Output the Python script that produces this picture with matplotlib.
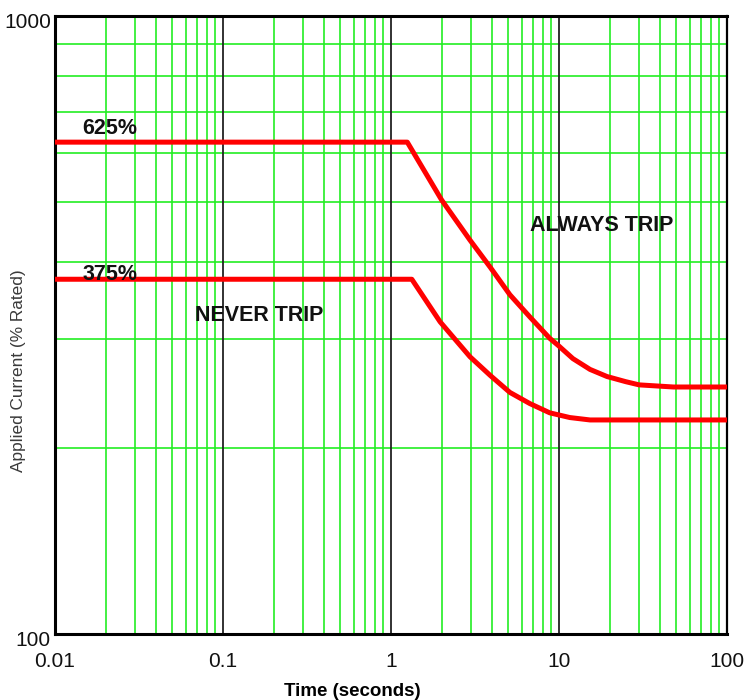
import matplotlib
matplotlib.use("Agg")
import matplotlib.pyplot as plt
import matplotlib.transforms as mtransforms
from matplotlib.ticker import FixedLocator, NullFormatter

# upper curve (625 %) - always trip boundary
t_upper = [0.01, 1.25, 2.0, 2.95, 3.9, 5.1, 6.7, 8.8, 9.9, 12.1, 15.3, 19.3, 25, 30, 48, 100]
i_upper = [625, 625, 504, 434, 392, 354, 326, 301, 293, 279, 268, 261, 256, 253, 251, 251]

# lower curve (375 %) - never trip boundary
t_lower = [0.01, 1.33, 1.96, 2.95, 3.9, 5.1, 6.7, 8.8, 11.6, 15.3, 100]
i_lower = [375, 375, 320, 281, 262, 246, 236, 228, 224, 222, 222]

x_ticks = [0.01, 0.1, 1, 10, 100]
x_tick_labels = ['0.01', '0.1', '1', '10', '100']
y_ticks = [100, 1000]
y_tick_labels = ['100', '1000']

green = '#22ee22'
red = '#ff0000'

fig = plt.figure(figsize=(7.51, 7.0), dpi=100)
ax = fig.add_axes([55 / 751, 66 / 700, 672 / 751, 618 / 700])
ax.set_xscale('log')
ax.set_yscale('log')
ax.set_xlim(0.01, 100)
ax.set_ylim(100, 1000)

# grid: green minor lines, black decade lines
minor_x = [m * 10.0 ** e for e in range(-2, 2) for m in range(2, 10)]
minor_y = [m * 100 for m in range(2, 10)]
for x in minor_x:
    ax.axvline(x, color=green, lw=1.2, zorder=1)
for y in minor_y:
    ax.axhline(y, color=green, lw=1.2, zorder=1)
for x in [0.1, 1, 10]:
    ax.axvline(x, color='#222222', lw=1.3, zorder=1.5)

ax.plot(t_upper, i_upper, color=red, lw=3.6, solid_capstyle='butt', zorder=3)
ax.plot(t_lower, i_lower, color=red, lw=3.6, solid_capstyle='butt', zorder=3)

bold = dict(family='Liberation Sans', fontsize=15.5, fontweight='bold', color='#111111')
ax.text(0.0145, 658, '625%', ha='left', va='center', **bold)
ax.text(0.0145, 381, '375%', ha='left', va='center', **bold)
ax.text(0.164, 328, 'NEVER TRIP', ha='center', va='center', **bold)
ax.text(18.0, 458, 'ALWAYS TRIP', ha='center', va='center', **bold)

ax.xaxis.set_major_locator(FixedLocator(x_ticks))
ax.yaxis.set_major_locator(FixedLocator(y_ticks))
ax.xaxis.set_minor_formatter(NullFormatter())
ax.yaxis.set_minor_formatter(NullFormatter())
ax.set_xticklabels(x_tick_labels)
ax.set_yticklabels(y_tick_labels)
ax.tick_params(which='both', length=0)
ax.tick_params(axis='x', pad=13)
ax.tick_params(axis='y', pad=3)
for lab in ax.get_xticklabels() + ax.get_yticklabels():
    lab.set_family('Liberation Sans')
    lab.set_fontsize(15)
    lab.set_color('#111111')
off = mtransforms.ScaledTranslation(0, -4 / 100, fig.dpi_scale_trans)
for lab in ax.get_yticklabels():
    lab.set_transform(lab.get_transform() + off)

for side in ['left', 'bottom', 'top']:
    ax.spines[side].set_linewidth(2.2)
ax.spines['right'].set_linewidth(1.6)

ax.set_xlabel('Time (seconds)', family='Liberation Sans', fontsize=13.5,
              fontweight='bold')
ax.xaxis.set_label_coords(0.443, -0.08)
ax.set_ylabel('Applied Current (% Rated)', family='Liberation Sans',
              fontsize=12.4, color='#3a3a3a')
ax.yaxis.set_label_coords(-0.043, 0.4256)

fig.savefig('out.png', dpi=100)
